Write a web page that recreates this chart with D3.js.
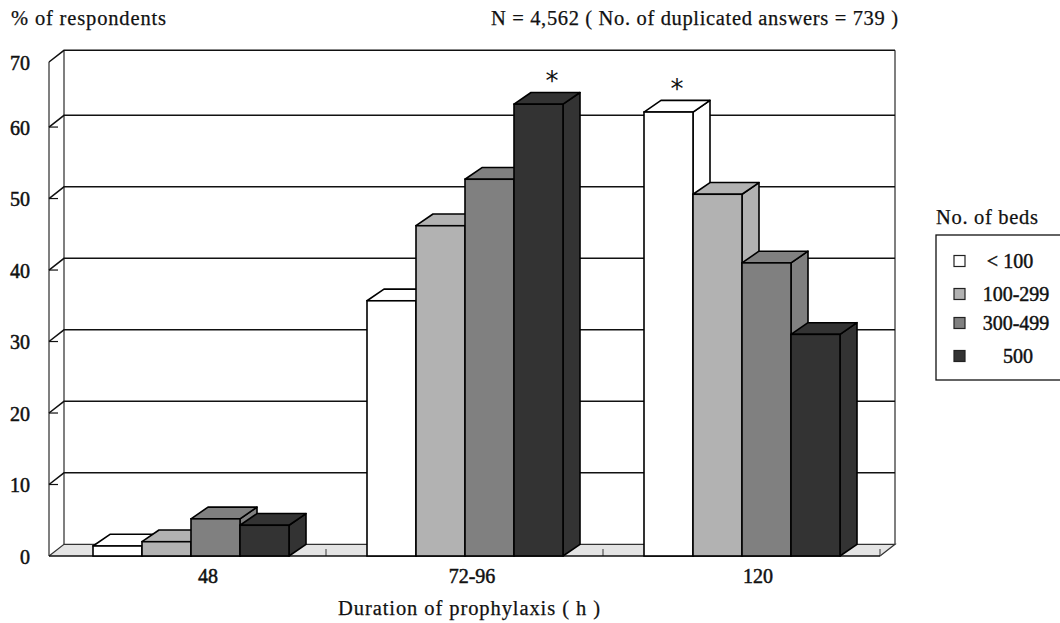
<!DOCTYPE html>
<html><head><meta charset="utf-8">
<script src="https://cdn.jsdelivr.net/npm/d3@7"></script>
<style>html,body{margin:0;padding:0;background:#fff}svg{display:block}text{font-family:"Liberation Serif","DejaVu Serif",serif;fill:#111}</style>
</head><body><svg id="c" width="1060" height="623"></svg>
<script>
const categories = ["48","72-96","120"];
const seriesNames = ["< 100","100-299","300-499","500"];
const seriesColors = ["#ffffff","#b2b2b2","#808080","#333333"];
const values48 = [1.4,2.0,5.2,4.3];
const values7296 = [35.7,46.2,52.7,63.2];
const values120 = [62.1,50.6,41.0,31.0];
const yTicks = [0,10,20,30,40,50,60,70];
const starred = [["72-96","500"],["120","< 100"]];
const rows = [values48,values7296,values120];

const svg = d3.select("#c");
const W={l:49,r:880,b:556,t:62}, dx=15, dy=-11.7, bdx=17, bdy=-11.7;
const y = d3.scaleLinear().domain([0,69.1]).range([W.b,W.t]);
const x = d3.scaleBand().domain(categories).range([W.l,W.r]);
const groupShift = {"48":3.5,"72-96":0.5,"120":0.5};
const labelShift = {"48":17,"72-96":7,"120":16};
const x1 = d3.scaleBand().domain(seriesNames).range([0,196]);
const color = d3.scaleOrdinal(seriesNames,seriesColors);
const groupLeft = c => x(c)+x.bandwidth()/2-98+groupShift[c];

svg.append("path").attr("fill","#e4e4e4").attr("stroke","none")
  .attr("d",`M${W.l},${W.b}L${W.l+dx},${W.b+dy}H${W.r+dx}L${W.r},${W.b}Z`);
const wall="#555";
svg.append("path").attr("fill","none").attr("stroke",wall).attr("stroke-width",1.5)
  .attr("d",`M${W.l},${W.b}V${W.t}M${W.l+dx},${W.b+dy}V${W.t+dy}M${W.r+dx},${W.t+dy}V${W.b+dy}`);
svg.append("path").attr("fill","none").attr("stroke","#111").attr("stroke-width",1.5)
  .attr("d",`M${W.l},${W.t}L${W.l+dx},${W.t+dy}H${W.r+dx}`);
svg.append("path").attr("fill","none").attr("stroke","#333").attr("stroke-width",1.2)
  .attr("d",`M${W.l},${W.b}L${W.l+dx},${W.b+dy}H${W.r+dx}L${W.r},${W.b}`);
yTicks.filter(t=>t>0&&t<70).forEach(t=>{
  svg.append("path").attr("fill","none").attr("stroke","#111").attr("stroke-width",1.5)
    .attr("d",`M${W.l},${y(t)}L${W.l+dx},${y(t)+dy}H${W.r+dx}`);
  svg.append("line").attr("x1",W.l).attr("x2",W.l+9).attr("y1",y(t)).attr("y2",y(t)).attr("stroke","#111").attr("stroke-width",1.2);
});
yTicks.forEach(t=>{
  svg.append("text").attr("x",30).attr("y",Math.max(y(t),W.t)+1).attr("dy","0.33em")
    .attr("text-anchor","end").attr("font-size",20).attr("stroke","#111").attr("stroke-width",0.5).text(t);
});
categories.forEach(c=>{
  const px=x(c)+x.bandwidth();
  svg.append("line").attr("x1",px).attr("x2",px).attr("y1",W.b).attr("y2",W.b-7).attr("stroke","#555").attr("stroke-width",1.2);
});
svg.append("line").attr("x1",W.l).attr("x2",W.r).attr("y1",W.b).attr("y2",W.b).attr("stroke","#111").attr("stroke-width",1.6);

categories.forEach((c,ci)=>{
  const g=svg.append("g");
  const data=seriesNames.map((s,i)=>({s,v:rows[ci][i]}));
  data.forEach(d=>{
    const X=groupLeft(c)+x1(d.s), w=x1.bandwidth(), Y=y(d.v), B=y(0), col=color(d.s);
    g.append("path").attr("fill",col).attr("stroke","#000").attr("stroke-width",1.6).attr("stroke-linejoin","round")
      .attr("d",`M${X+w},${Y}L${X+w+bdx},${Y+bdy}V${B+bdy}L${X+w},${B}Z`);
    g.append("path").attr("fill",col).attr("stroke","#000").attr("stroke-width",1.6).attr("stroke-linejoin","round")
      .attr("d",`M${X},${Y}L${X+bdx},${Y+bdy}H${X+w+bdx}L${X+w},${Y}Z`);
    g.append("rect").attr("x",X).attr("y",Y).attr("width",w).attr("height",B-Y).attr("fill",col).attr("stroke","#000").attr("stroke-width",1.6);
  });
});
const starShift=[38,33];
starred.forEach(([c,s],i)=>{
  const v=rows[categories.indexOf(c)][seriesNames.indexOf(s)];
  svg.append("text").attr("x",groupLeft(c)+x1(s)+starShift[i]).attr("y",y(v)-14)
    .attr("text-anchor","middle").attr("font-size",26).style("font-family","'DejaVu Sans'").text("*");
});
categories.forEach(c=>{
  svg.append("text").attr("x",groupLeft(c)+98+labelShift[c]).attr("y",583).attr("text-anchor","middle")
    .attr("font-size",20).attr("stroke","#111").attr("stroke-width",0.5).text(c);
});
const T=(x,y,s,size,len,anc)=>svg.append("text").attr("x",x).attr("y",y).attr("font-size",size).attr("text-anchor",anc||"start").attr("textLength",len).attr("lengthAdjust","spacing").attr("stroke","#111").attr("stroke-width",0.25).text(s);
T(11,25,"% of respondents",20.5,155);
T(491,25,"N = 4,562 ( No. of duplicated answers = 739 )",20.5,407);
T(338,615,"Duration of prophylaxis ( h )",20.5,262);
T(936,224,"No. of beds",20.5,102);
svg.append("rect").attr("x",936).attr("y",235).attr("width",140).attr("height",145).attr("fill","#fff").attr("stroke","#111").attr("stroke-width",1.3);
const ly=d3.scaleOrdinal(seriesNames,[261,294,323,356]);
const lx={"< 100":1010,"100-299":1016,"300-499":1016,"500":1018};
seriesNames.forEach(s=>{
  svg.append("rect").attr("x",954).attr("y",ly(s)-5.5).attr("width",11).attr("height",11).attr("fill",color(s)).attr("stroke","#222").attr("stroke-width",1.2);
  svg.append("text").attr("x",lx[s]).attr("y",ly(s)).attr("dy","0.33em").attr("text-anchor","middle").attr("font-size",20).attr("stroke","#111").attr("stroke-width",0.45).text(s);
});
</script></body></html>
